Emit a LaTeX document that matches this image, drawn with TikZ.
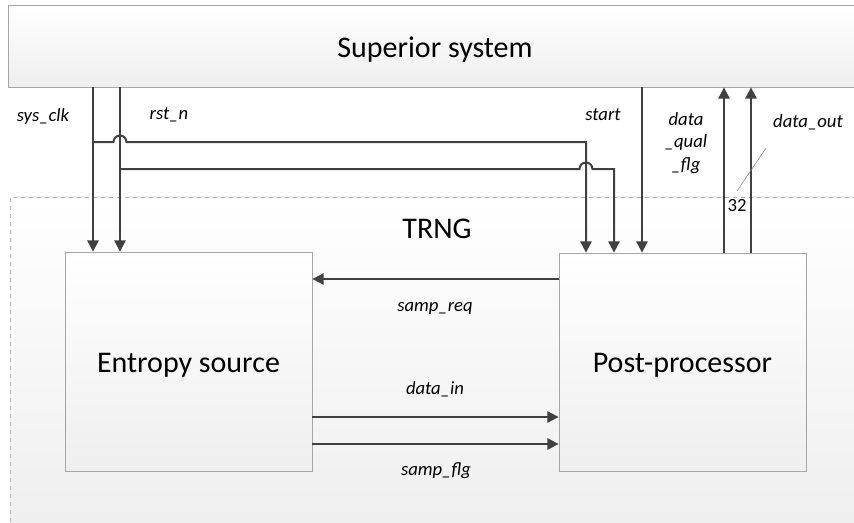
\documentclass[tikz,border=0pt]{standalone}
\usepackage{fontspec}
\setmainfont{Carlito}
\usetikzlibrary{arrows.meta,fit}

\begin{document}
\begin{tikzpicture}[x=0.75pt,y=-0.75pt,
	blk/.style={draw=gray!70, line width=0.6pt, inner sep=0pt, top color=white, bottom color=gray!13},
	sig/.style={draw=black!75, line width=1.5pt, -{Triangle[length=8.5pt,width=8.5pt]}},
	lbl/.style={font=\fontsize{14}{17}\selectfont\itshape, align=center},
	big/.style={font=\fontsize{22.5}{26}\selectfont, yshift=-2.5pt}]
	\useasboundingbox (0,0) rectangle (854,522);
	\node[blk, dashed, draw=gray!60, fit={(10,197) (862,532)}] (trng) {};
	\node[blk, fit={(8,5) (862,87)}, label={[big]center:Superior system}] (sup) {};
	\node[big] (trnglbl) at (437,226) {TRNG};
	\node[blk, fit={(65,252) (312,471)}, label={[big]center:Entropy source}] (ent) {};
	\node[blk, fit={(559,253) (806,471)}, label={[big]center:Post-processor}] (pp) {};
	\coordinate (clk) at (93,142);
	\coordinate (rst) at (120,169);
	\coordinate (clkin) at (586,0);
	\coordinate (rstin) at (614,0);
	\coordinate (start) at (642,0);
	\coordinate (qual) at (724,0);
	\coordinate (dout) at (751,0);
	\coordinate (req) at (0,279);
	\coordinate (din) at (0,417);
	\coordinate (flg) at (0,444);
	\draw[sig] (sup.south -| clk) -- (ent.north -| clk);
	\draw[sig] (sup.south -| rst) -- (ent.north -| rst);
	\draw[sig] (clk) -- ([xshift=-4.9pt]rst |- clk) arc[start angle=180, end angle=360, radius=6.5] -- (clkin |- clk) -- (pp.north -| clkin);
	\draw[sig] (rst) -- ([xshift=-4.9pt]clkin |- rst) arc[start angle=180, end angle=360, radius=6.5] -- (rstin |- rst) -- (pp.north -| rstin);
	\draw[sig] (sup.south -| start) -- (pp.north -| start);
	\draw[sig] (pp.north -| qual) -- (sup.south -| qual);
	\draw[sig] (pp.north -| dout) -- (sup.south -| dout);
	\draw[sig] (pp.west |- req) -- (ent.east |- req);
	\draw[sig] (ent.east |- din) -- (pp.west |- din);
	\draw[sig] (ent.east |- flg) -- (pp.west |- flg);
	\draw[gray, line width=0.4pt] (766,148) -- (737,191);
	\node[lbl] (clklbl) at (43,117) {sys\_clk};
	\node[lbl] (rstlbl) at (169,115) {rst\_n};
	\node[lbl] (startlbl) at (603,115) {start};
	\node[lbl] (quallbl) at (686,143) {data\\\_qual\\\_flg};
	\node[lbl] (doutlbl) at (808,122) {data\_out};
	\node[font=\fontsize{14}{17}\selectfont] (width) at (737,206) {32};
	\node[lbl] (reqlbl) at (435,308) {samp\_req};
	\node[lbl] (dinlbl) at (435,389) {data\_in};
	\node[lbl] (flglbl) at (436,471) {samp\_flg};
\end{tikzpicture}
\end{document}
